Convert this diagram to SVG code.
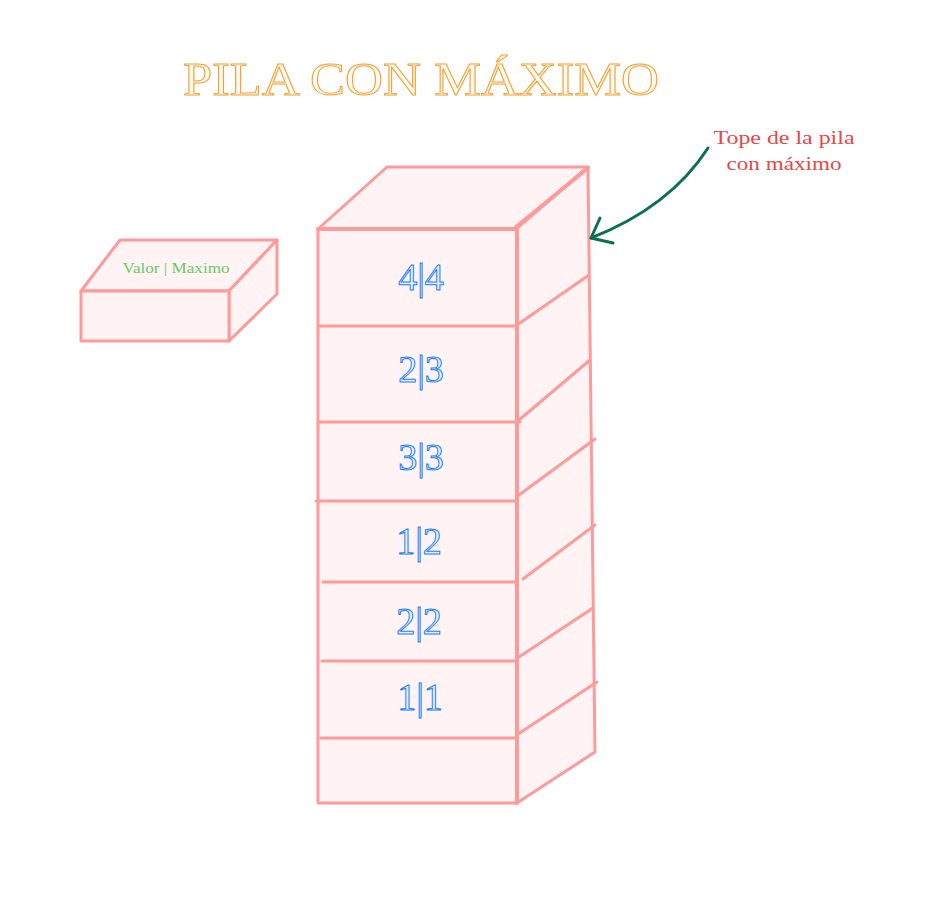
<svg xmlns="http://www.w3.org/2000/svg" width="945" height="904" viewBox="0 0 945 904">
<defs>
<style>
.box{fill:#fff3f3;stroke:#ff9a9a;stroke-width:3;stroke-linejoin:round;stroke-linecap:round}
.ln{fill:none;stroke:#ff9a9a;stroke-width:3;stroke-linecap:round}
.val{font-family:"Liberation Serif","DejaVu Serif",serif;font-size:38px;fill:#e6f1ff;stroke:#1a7fff;stroke-width:1;text-anchor:middle}
.title{font-family:"Liberation Serif","DejaVu Serif",serif;font-size:46px;fill:#fffaf2;stroke:#f5a030;stroke-width:1;text-anchor:middle}
.note{font-family:"Liberation Serif","DejaVu Serif",serif;font-size:19px;fill:#e84848;text-anchor:middle}
.legend{font-family:"Liberation Serif","DejaVu Serif",serif;font-size:14px;fill:#66cc66;text-anchor:middle}
.arrow{fill:none;stroke:#0a7050;stroke-width:3;stroke-linecap:round;stroke-linejoin:round}
</style>
</defs>
<rect width="945" height="904" fill="#ffffff"/>
<text class="title" x="421" y="95" textLength="476" lengthAdjust="spacingAndGlyphs">PILA CON MÁXIMO</text>

<g id="legend-box">
<polygon class="box" points="81,291 120,240 277,240 229,291"/>
<polygon class="box" points="229,291 277,240 277,294 229,341"/>
<rect class="box" x="81" y="291" width="148" height="50"/>
<text class="legend" x="176" y="273" textLength="107" lengthAdjust="spacingAndGlyphs">Valor | Maximo</text>
</g>

<g id="stack">
<polygon class="box" points="318,229 387,167 588,167 516,229"/>
<polygon class="box" points="516,229 588,167 595,752 517,803"/>
<rect class="box" x="318" y="229" width="199" height="574"/>
<line class="ln" x1="318" y1="229" x2="517" y2="229" style="stroke-width:4"/>
<line class="ln" x1="517" y1="229" x2="517" y2="803" style="stroke-width:4"/>
<line class="ln" x1="516" y1="227" x2="588" y2="168" style="stroke-width:4"/>
</g>

<g id="slots">
<line class="ln" x1="320" y1="326" x2="517" y2="326"/>
<line class="ln" x1="517" y1="325" x2="589" y2="275"/>
<line class="ln" x1="318" y1="422" x2="520" y2="422"/>
<line class="ln" x1="519" y1="420" x2="590" y2="360"/>
<line class="ln" x1="316" y1="501" x2="517" y2="501"/>
<line class="ln" x1="519" y1="495" x2="595" y2="439"/>
<line class="ln" x1="323" y1="582" x2="517" y2="582"/>
<line class="ln" x1="523" y1="579" x2="595" y2="525"/>
<line class="ln" x1="322" y1="661" x2="517" y2="661"/>
<line class="ln" x1="519" y1="657" x2="593" y2="608"/>
<line class="ln" x1="321" y1="738" x2="514" y2="738"/>
<line class="ln" x1="518" y1="734" x2="597" y2="682"/>
</g>

<g id="values">
<text class="val" x="421" y="290">4|4</text>
<text class="val" x="421" y="382">2|3</text>
<text class="val" x="421" y="470">3|3</text>
<text class="val" x="419" y="554">1|2</text>
<text class="val" x="419" y="634">2|2</text>
<text class="val" x="420" y="710">1|1</text>
</g>

<g id="annotation">
<text class="note" x="784" y="144" textLength="141" lengthAdjust="spacingAndGlyphs">Tope de la pila</text>
<text class="note" x="784" y="170" textLength="115" lengthAdjust="spacingAndGlyphs">con máximo</text>
</g>

<g id="connectors">
<path class="arrow" d="M708,148 Q670,207 591,238"/>
<polyline class="arrow" points="600,218 591,238 613,243"/>
</g>
</svg>
